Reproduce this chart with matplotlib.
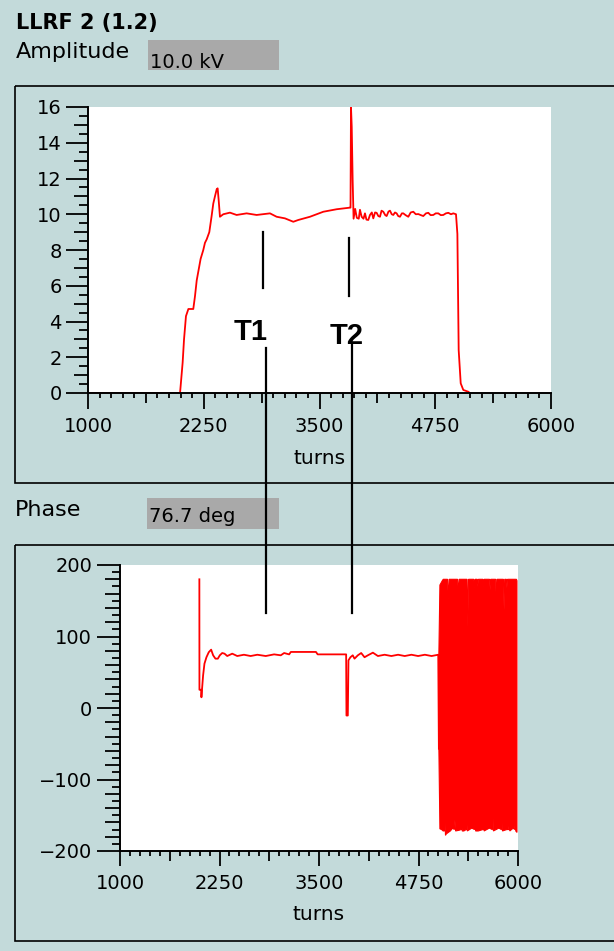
import matplotlib
matplotlib.use("Agg")
import matplotlib.pyplot as plt
from matplotlib.patches import Rectangle
import numpy as np

# ---------------- data ----------------
amp_turns = [1000, 1994, 2022, 2037, 2058, 2084, 2137, 2155, 2174, 2202, 2216, 2245, 2263,
             2282, 2310, 2335, 2353, 2371, 2390, 2400, 2411, 2425, 2461, 2533, 2605, 2713,
             2821, 2965, 3037, 3127, 3217, 3271, 3397, 3541, 3685, 3829, 3835, 3840, 3848,
             3858, 3868, 3885, 3903, 3924, 3937, 3955, 3975, 3991, 4007, 4027, 4045, 4065,
             4081, 4100, 4117, 4135, 4153, 4170, 4189, 4210, 4225, 4245, 4261, 4280, 4297,
             4315, 4333, 4350, 4369, 4390, 4405, 4430, 4459, 4485, 4513, 4540, 4567, 4595,
             4621, 4650, 4675, 4700, 4729, 4755, 4783, 4810, 4837, 4865, 4891, 4920, 4945,
             4974, 4989, 5003, 5025, 5053, 5107, 5123]
amp_kv = [0.0, 0.0, 1.7, 3.0, 4.3, 4.7, 4.7, 5.4, 6.3, 7.1, 7.5, 8.0, 8.4,
          8.6, 9.0, 9.9, 10.6, 11.0, 11.4, 11.45, 10.8, 9.86, 10.0, 10.09, 9.96, 10.05,
          9.96, 10.05, 9.86, 9.77, 9.58, 9.68, 9.86, 10.14, 10.28, 10.37, 10.37, 16.0, 14.9,
          11.9, 9.75, 10.3, 9.8, 9.75, 10.25, 9.86, 9.75, 10.05, 9.7, 9.68, 9.96, 10.1,
          9.77, 10.1, 10.08, 9.9, 9.86, 10.2, 10.14, 9.95, 9.9, 10.15, 10.2, 10.0, 9.96,
          10.1, 10.05, 9.9, 9.86, 10.05, 10.05, 9.95, 9.86, 10.1, 10.14, 10.0, 10.01, 9.95,
          9.9, 10.05, 10.08, 9.95, 9.96, 10.05, 10.05, 9.95, 9.96, 10.05, 10.08, 10.0, 10.05,
          10.0, 8.9, 2.4, 0.54, 0.17, 0.07, 0.0]

ph_turns = [1997, 1998, 2010, 2020, 2023, 2030, 2044, 2061, 2086, 2115, 2145, 2170, 2199,
            2229, 2254, 2284, 2313, 2347, 2410, 2473, 2557, 2641, 2725, 2831, 2936, 3020,
            3062, 3125, 3146, 3462, 3483, 3841, 3845, 3862, 3870, 3895, 3924, 3946, 3988,
            4030, 4072, 4114, 4177, 4240, 4324, 4409, 4493, 4577, 4661, 4745, 4830, 4914,
            4998, 5006]
ph_deg = [180, 25.5, 25.5, 25.5, 15, 25.5, 45.6, 62, 71, 78, 81.6, 73.7, 69,
          69, 73.7, 76.9, 76, 72.7, 76, 72.7, 74.5, 72.7, 74.5, 72.7, 75, 73.7,
          76.9, 75, 78.4, 78.4, 75, 75, -10.5, -10.5, 66.7, 71, 73.7, 69, 73.7,
          76.9, 71, 73.7, 77.4, 72.7, 74.5, 72.7, 74.5, 72.7, 74.5, 72.7, 74.5, 72.7,
          74.5, -57]

# envelope of the fast oscillation after ~5000 turns
osc_top_turns = [5006, 5019, 5049, 5061, 5115, 5125, 5135, 5241, 5251, 5261, 5360, 5369,
                 5378, 5445, 5453, 5461, 5488, 5495, 5502, 5560, 5567, 5574, 5643, 5650,
                 5657, 5720, 5728, 5736, 5817, 5825, 5833, 5854, 5861, 5868, 5980, 5987]
osc_top_deg = [76, 172, 178, 180, 180, 151, 180, 180, 162, 180, 180, 113,
               180, 180, 168, 180, 180, 170, 180, 180, 170, 180, 180, 165,
               180, 180, 140, 180, 180, 137, 180, 180, 168, 180, 180, 178]
osc_bot_turns = [5006, 5019, 5040, 5060, 5075, 5082, 5089, 5100, 5150, 5180, 5200, 5208,
                 5216, 5260, 5285, 5292, 5299, 5320, 5349, 5356, 5363, 5420, 5454, 5461,
                 5468, 5500, 5560, 5567, 5574, 5640, 5677, 5684, 5691, 5760, 5791, 5798,
                 5805, 5860, 5883, 5890, 5897, 5940, 5958, 5965, 5972, 5987]
osc_bot_deg = [-57, -169, -170, -172, -172, -156, -178, -176, -172, -168, -170, -157,
               -172, -171, -170, -161, -172, -172, -170, -156, -172, -168, -170, -161,
               -172, -172, -170, -157, -172, -168, -170, -147, -172, -168, -170, -157,
               -172, -170, -170, -161, -172, -168, -170, -160, -172, -174]

amp_readout = "10.0 kV"
phase_readout = "76.7 deg"
x_major = [1000, 2250, 3500, 4750, 6000]

# ---------------- figure ----------------
W, H = 614, 951
BG = "#c3dada"
RED = "#ff0000"
fig = plt.figure(figsize=(W / 100, H / 100), dpi=100, facecolor=BG)


def fx(px):
    return px / W


def fy(py):
    return 1 - py / H


def style_axes(ax, ymaj, ymed, ymin, ylens, xlens, ypad):
    ax.set_facecolor("white")
    for s in ("top", "right"):
        ax.spines[s].set_visible(False)
    for s in ("left", "bottom"):
        ax.spines[s].set_linewidth(1.4)
        ax.spines[s].set_color("black")
        ax.spines[s].set_zorder(5)
    xmed = [a + 625 for a in x_major[:-1]]
    xmin = [v for v in range(1000, 6001, 125) if v not in x_major and v not in xmed]
    ax.set_xticks(x_major)
    ax.set_xticklabels([str(v) for v in x_major])
    ax.set_xticks(xmin, minor=True)
    ax.set_yticks(ymaj)
    ax.set_yticks(ymin, minor=True)
    ax.tick_params(axis="x", which="major", length=xlens[0], width=1.3, pad=5.5,
                   labelsize=14, direction="out")
    ax.tick_params(axis="x", which="minor", length=xlens[2], width=1.3, direction="out")
    ax.tick_params(axis="y", which="major", length=ylens[0], width=1.3, pad=ypad,
                   labelsize=14, direction="out")
    ax.tick_params(axis="y", which="minor", length=ylens[2], width=1.3, direction="out")
    secx = ax.secondary_xaxis("bottom")
    secx.set_xticks(xmed)
    secx.tick_params(length=xlens[1], width=1.3, labelbottom=False, direction="out")
    secx.spines["bottom"].set_visible(False)
    secy = ax.secondary_yaxis("left")
    secy.set_yticks(ymed)
    secy.tick_params(length=ylens[1], width=1.3, labelleft=False, direction="out")
    secy.spines["left"].set_visible(False)


# amplitude panel
ax1 = fig.add_axes([fx(88), fy(393), fx(551) - fx(88), fy(107) - fy(393)])
ax1.plot(amp_turns, amp_kv, color=RED, lw=1.3, zorder=2)
ax1.set_xlim(1000, 6000)
ax1.set_ylim(0, 16)
style_axes(ax1,
           list(range(0, 17, 2)),
           list(range(1, 16, 2)),
           [v / 2 for v in range(1, 32, 2)],
           (16, 10, 6.5), (11.5, 7.2, 3.8), 3.0)

# phase panel
ax2 = fig.add_axes([fx(120), fy(851), fx(518) - fx(120), fy(565) - fy(851)])
ax2.plot(ph_turns, ph_deg, color=RED, lw=1.3, zorder=2)
ax2.fill(list(osc_top_turns) + list(osc_bot_turns[::-1]),
         list(osc_top_deg) + list(osc_bot_deg[::-1]),
         color=RED, lw=0.8, ec=RED, zorder=2)
ax2.set_xlim(1000, 6000)
ax2.set_ylim(-200, 200)
style_axes(ax2,
           [-200, -100, 0, 100, 200],
           [v for v in range(-180, 200, 20) if v % 100 != 0],
           [v for v in range(-190, 200, 20)],
           (16.5, 10.8, 5.8), (11, 7.2, 3.6), 3.6)

# ---------------- overlay (frames, labels, markers) ----------------
ov = fig.add_axes([0, 0, 1, 1], facecolor="none")
ov.set_xlim(0, W)
ov.set_ylim(H, 0)
ov.axis("off")
ov.set_zorder(10)

# panel frames (right edge runs off the picture)
ov.add_patch(Rectangle((15, 86), 620, 397, fill=False, ec="black", lw=1.2))
ov.add_patch(Rectangle((15, 545), 620, 396, fill=False, ec="black", lw=1.2))

# readout boxes
ov.add_patch(Rectangle((148, 39.5), 131, 30, fc="#a9a9a9", ec="none"))
ov.add_patch(Rectangle((147, 497.5), 132, 31, fc="#a9a9a9", ec="none"))

ov.text(16, 28.5, "LLRF 2 (1.2)", fontsize=15, fontweight="bold", ha="left", va="baseline")
ov.text(16, 57.5, "Amplitude", fontsize=16, ha="left", va="baseline")
ov.text(150, 68, amp_readout, fontsize=14, ha="left", va="baseline")
ov.text(15, 516.5, "Phase", fontsize=16, ha="left", va="baseline")
ov.text(149, 521.5, phase_readout, fontsize=14, ha="left", va="baseline")

ov.text(319.5, 458, "turns", fontsize=14.5, ha="center", va="center")
ov.text(319, 915, "turns", fontsize=14.5, ha="center", va="center")

# T1 / T2 markers
ov.text(234, 340, "T1", fontsize=21, fontweight="bold", family="Liberation Sans",
        ha="left", va="baseline")
ov.text(330, 343.5, "T2", fontsize=21, fontweight="bold", family="Liberation Sans",
        ha="left", va="baseline")
ov.plot([263, 263], [232, 288], color="black", lw=1.6)
ov.plot([266, 266], [348, 613], color="black", lw=1.6)
ov.plot([349, 349], [238, 296], color="black", lw=1.6)
ov.plot([352, 352], [345, 613], color="black", lw=1.6)

fig.savefig("out.png", dpi=100, facecolor=BG)
